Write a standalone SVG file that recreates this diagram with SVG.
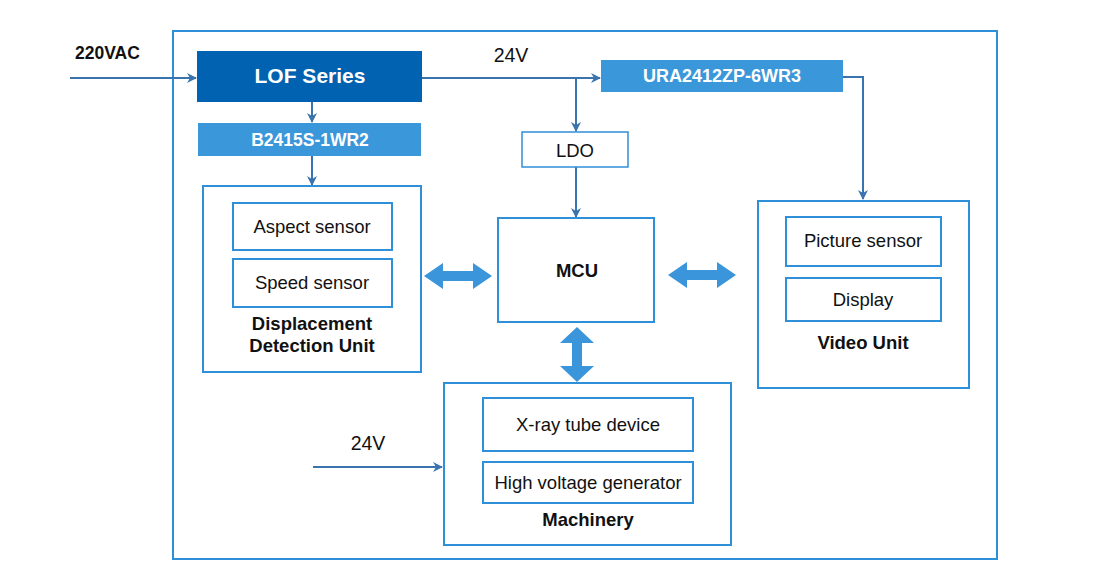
<svg xmlns="http://www.w3.org/2000/svg" width="1095" height="585" viewBox="0 0 1095 585">
<defs>
<style>
.box{fill:#fff;stroke:#2F8FD8;stroke-width:2}
.t{font-family:"Liberation Sans",Arial,sans-serif;font-size:18.5px;fill:#111;text-anchor:middle}
.b{font-weight:bold}
.w{fill:#fff;font-weight:bold}
.ln{fill:none;stroke:#3A74AE;stroke-width:2}
.da{fill:#3A95DA}
</style>
<marker id="ah" viewBox="0 0 10 10" refX="9" refY="5" markerWidth="5" markerHeight="5" orient="auto-start-reverse">
<path d="M0,0 L10,5 L0,10 L3,5 z" fill="#3A74AE"/>
</marker>
</defs>
<rect width="1095" height="585" fill="#fff"/>
<rect id="frame" x="173" y="31" width="824" height="528" fill="none" stroke="#2F8FD8" stroke-width="2"/>

<g id="connectors">
<path class="ln" d="M70,78 H196" marker-end="url(#ah)"/>
<path class="ln" d="M312,102 V122" marker-end="url(#ah)"/>
<path class="ln" d="M312,156 V185" marker-end="url(#ah)"/>
<path class="ln" d="M422,78 H600" marker-end="url(#ah)"/>
<path class="ln" d="M576,78 V131" marker-end="url(#ah)"/>
<path class="ln" d="M576,167 V217" marker-end="url(#ah)"/>
<path class="ln" d="M843,77 H863 V199" marker-end="url(#ah)"/>
<path class="ln" d="M313,467 H442" marker-end="url(#ah)"/>
<path class="da" d="M424,276 L443,263 V271 H473 V263 L492,276 L473,289 V281 H443 V289 Z"/>
<path class="da" d="M668,275 L687,262 V270 H717 V262 L736,275 L717,288 V280 H687 V288 Z"/>
<path class="da" d="M577,327 L594,343 H582 V366 H594 L577,382 L560,366 H572 V343 H560 Z"/>
</g>

<text class="t b" x="75" y="59" style="text-anchor:start;font-size:17.5px">220VAC</text>
<text class="t" x="511" y="62" style="font-size:19.5px">24V</text>
<text class="t" x="368" y="450" style="font-size:19.5px">24V</text>

<g id="lof">
<rect x="197" y="51" width="225" height="51" fill="#0062B0"/>
<text class="t w" x="310" y="83" style="font-size:21px">LOF Series</text>
</g>
<g id="b2415">
<rect x="198" y="123" width="223" height="33" fill="#3A97DA"/>
<text class="t w" x="310" y="146" style="font-size:17.5px">B2415S-1WR2</text>
</g>
<g id="ura">
<rect x="601" y="60" width="242" height="32" fill="#3A97DA"/>
<text class="t w" x="722" y="82" style="font-size:18px">URA2412ZP-6WR3</text>
</g>
<g id="ldo">
<rect class="box" x="522" y="132" width="106" height="35" style="stroke-width:1.5"/>
<text class="t" x="575" y="157">LDO</text>
</g>
<g id="mcu">
<rect class="box" x="498" y="218" width="156" height="104"/>
<text class="t b" x="577" y="277">MCU</text>
</g>
<g id="displacement">
<rect class="box" x="203" y="186" width="218" height="186"/>
<rect class="box" x="233" y="203" width="159" height="47"/>
<text class="t" x="312" y="233">Aspect sensor</text>
<rect class="box" x="233" y="259" width="159" height="48"/>
<text class="t" x="312" y="289">Speed sensor</text>
<text class="t b" x="312" y="330">Displacement</text>
<text class="t b" x="312" y="352">Detection Unit</text>
</g>
<g id="video">
<rect class="box" x="758" y="201" width="211" height="187"/>
<rect class="box" x="786" y="217" width="155" height="49"/>
<text class="t" x="863" y="247">Picture sensor</text>
<rect class="box" x="786" y="278" width="155" height="43"/>
<text class="t" x="863" y="306">Display</text>
<text class="t b" x="863" y="349">Video Unit</text>
</g>
<g id="machinery">
<rect class="box" x="444" y="383" width="287" height="162"/>
<rect class="box" x="483" y="398" width="210" height="53"/>
<text class="t" x="588" y="431">X-ray tube device</text>
<rect class="box" x="483" y="462" width="210" height="41"/>
<text class="t" x="588" y="489">High voltage generator</text>
<text class="t b" x="588" y="526">Machinery</text>
</g>
</svg>
